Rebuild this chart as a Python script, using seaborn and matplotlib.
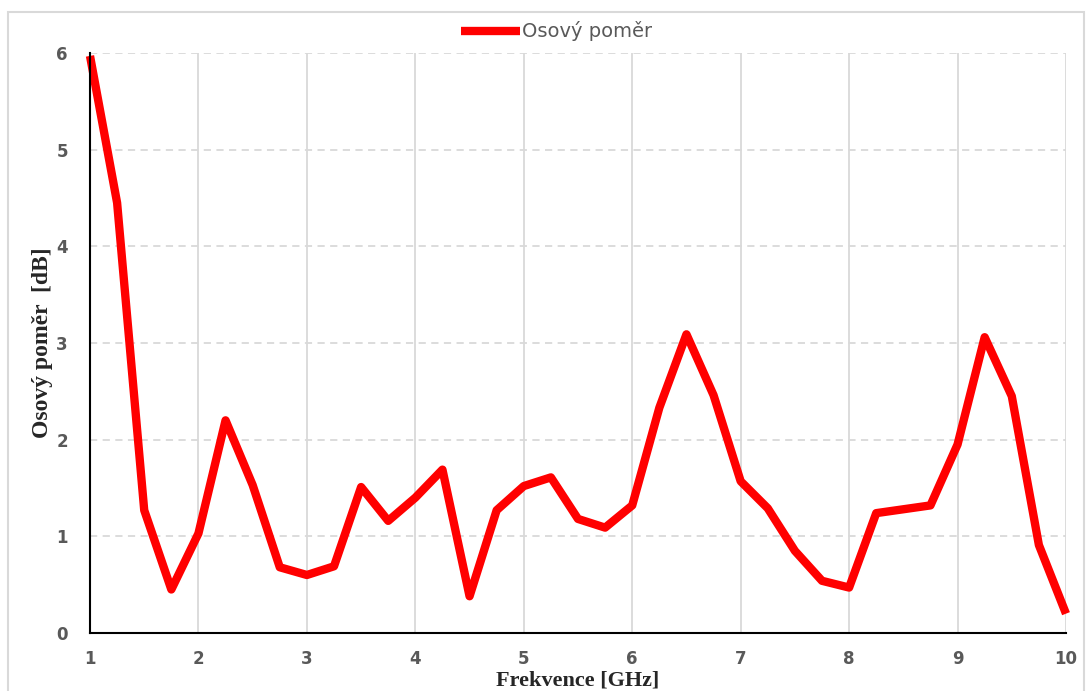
import numpy as np
import pandas as pd
import seaborn as sns
import matplotlib.pyplot as plt
from matplotlib.patches import Rectangle

# frequency [GHz] and axial ratio [dB]
freq = [1.0, 1.25, 1.5, 1.75, 2.0, 2.25, 2.5, 2.75, 3.0, 3.25, 3.5, 3.75,
        4.0, 4.25, 4.5, 4.75, 5.0, 5.25, 5.5, 5.75, 6.0, 6.25, 6.5, 6.75,
        7.0, 7.25, 7.5, 7.75, 8.0, 8.25, 8.5, 8.75, 9.0, 9.25, 9.5, 9.75, 10.0]
axial_ratio = [5.97, 4.45, 1.27, 0.45, 1.03, 2.2, 1.53, 0.68, 0.6, 0.69, 1.51, 1.16,
               1.40, 1.69, 0.38, 1.27, 1.52, 1.61, 1.18, 1.09, 1.32, 2.33, 3.09, 2.46,
               1.57, 1.29, 0.85, 0.54, 0.47, 1.24, 1.28, 1.32, 1.95, 3.06, 2.45, 0.91, 0.2]
x_ticks = [1, 2, 3, 4, 5, 6, 7, 8, 9, 10]
y_ticks = [0, 1, 2, 3, 4, 5, 6]

df = pd.DataFrame({'Frekvence': freq, 'Osovy pomer': axial_ratio})

sns.set_style('white')
plt.rcParams['font.family'] = ['DejaVu Sans']

fig = plt.figure(figsize=(10.89, 6.91), dpi=100)
ax = fig.add_axes([90 / 1089, 1 - 633 / 691, (1066 - 90) / 1089, (633 - 53) / 691])

# outer chart frame
fig.patches.append(Rectangle((8 / 1089, -0.05), (1084 - 8) / 1089, 1.05 - 12 / 691,
                             transform=fig.transFigure, fill=False,
                             edgecolor='#d9d9d9', linewidth=1.5))

sns.lineplot(data=df, x='Frekvence', y='Osovy pomer', ax=ax, color='#ff0000',
             linewidth=6, label='Osový poměr', clip_on=False,
             solid_joinstyle='round', solid_capstyle='butt')

ax.set_xlim(1, 10)
ax.set_ylim(0, 6)
ax.set_xticks(x_ticks)
ax.set_yticks(y_ticks)

for x in x_ticks[1:]:
    ax.axvline(x, color='#d9d9d9', linewidth=1.3, zorder=0)
for y in y_ticks[1:]:
    ax.axhline(y, color='#d9d9d9', linewidth=1.3, linestyle=(0, (4, 3)), zorder=0)

for side in ['top', 'right']:
    ax.spines[side].set_visible(False)
for side in ['left', 'bottom']:
    ax.spines[side].set_color('black')
    ax.spines[side].set_linewidth(1.5)

ax.tick_params(axis='both', length=0, labelsize=12, labelcolor='#595959')
ax.tick_params(axis='x', pad=12)
ax.tick_params(axis='y', pad=16)
for lbl in ax.get_xticklabels() + ax.get_yticklabels():
    lbl.set_fontweight('bold')

ax.set_xlabel('Frekvence [GHz]', fontfamily='Liberation Serif', fontsize=16,
              fontweight='bold', labelpad=2)
ax.set_ylabel('Osový poměr  [dB]', fontfamily='Liberation Serif', fontsize=17,
              fontweight='bold', labelpad=2)

leg = ax.legend(loc='lower center', bbox_to_anchor=(0.478, 1.0), frameon=False,
                fontsize=14, handlelength=3, handletextpad=0.1, borderaxespad=0.2)
for t in leg.get_texts():
    t.set_color('#595959')

fig.savefig('out.png', dpi=100)
